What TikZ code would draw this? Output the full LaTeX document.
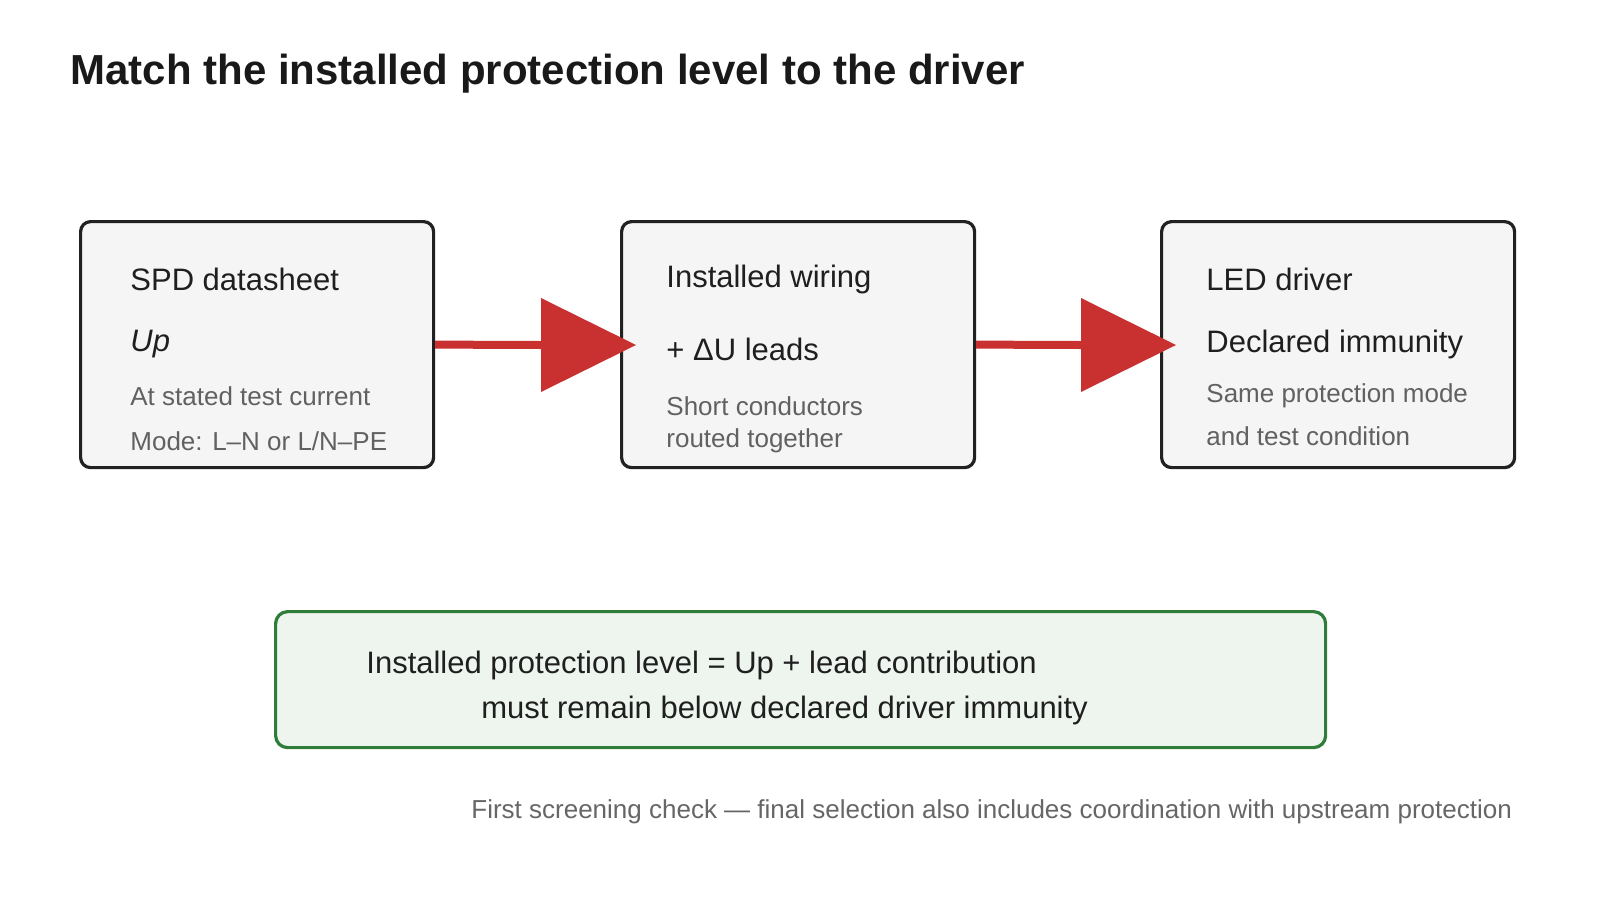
\documentclass[tikz,border=0pt]{standalone}
\usepackage{fontspec}
\setmainfont{Liberation Sans}
\begin{document}
\begin{tikzpicture}[x=0.5pt,y=-0.5pt,
 box/.style={draw=black!87,line width=1.6pt,fill=black!4,rounded corners=5pt},
 t/.style={anchor=west,inner sep=0pt,font=\fontsize{15.5}{18}\selectfont,text=black!88},
 s/.style={anchor=west,inner sep=0pt,font=\fontsize{13}{16}\selectfont,text=black!62},
 arr/.style={draw=red!70!black!90,line width=4pt},
 head/.style={fill=red!70!black!90,draw=none}]
\useasboundingbox (0,0) rectangle (1600,900);
\definecolor{rd}{HTML}{C93030}
\definecolor{gr}{HTML}{2E7D3A}
\node[anchor=base west,inner sep=0pt,font=\bfseries\fontsize{21}{24}\selectfont,text=black!90] (title) at (70,84) {Match the installed protection level to the driver};
\node[box,minimum width=176.5pt,minimum height=123pt,anchor=north west] (b1) at (79,220) {};
\node[box,minimum width=176.5pt,minimum height=123pt,anchor=north west] (b2) at (620,220) {};
\node[box,minimum width=176.5pt,minimum height=123pt,anchor=north west] (b3) at (1160,220) {};
\node[t] (a1) at (130,279) {SPD datasheet};
\node[t,font=\itshape\fontsize{15.5}{18}\selectfont] (a2) at (130,344) {Up};
\node[s] (a3) at (130,396) {At stated test current};
\node[s] (a4) at (130,441) {Mode: L–N or L/N–PE};
\node[t] (c1) at (666,279) {Installed wiring};
\node[t] (c2) at (666,349) {+ ΔU leads};
\node[s] (c3) at (666,406) {Short conductors};
\node[s] (c4) at (666,441) {routed together};
\node[t] (d1) at (1206,279) {LED driver};
\node[t] (d2) at (1206,344) {Declared immunity};
\node[s] (d3) at (1206,396) {Same protection mode};
\node[s] (d4) at (1206,436) {and test condition};
\coordinate (h1) at (541,345);
\coordinate (h2) at (1081,345);
\draw[draw=rd,line width=4pt] (b1.east) -- (h1);
\fill[rd] (541,298) -- (636,345) -- (541,392) -- cycle;
\draw[draw=rd,line width=4pt] (b2.east) -- (h2);
\fill[rd] (1081,298) -- (1176,345) -- (1081,392) -- cycle;
\node[draw=gr,line width=1.6pt,fill=gr!8,rounded corners=6pt,minimum width=525pt,minimum height=68pt,anchor=north west] (g) at (274,610) {};
\node[t] (g1) at (366,665) {Installed protection level = Up + lead contribution};
\node[t] (g2) at (481,710) {must remain below declared driver immunity};
\node[s,text=black!60] (f) at (471,812) {First screening check — final selection also includes coordination with upstream protection};
\end{tikzpicture}
\end{document}
